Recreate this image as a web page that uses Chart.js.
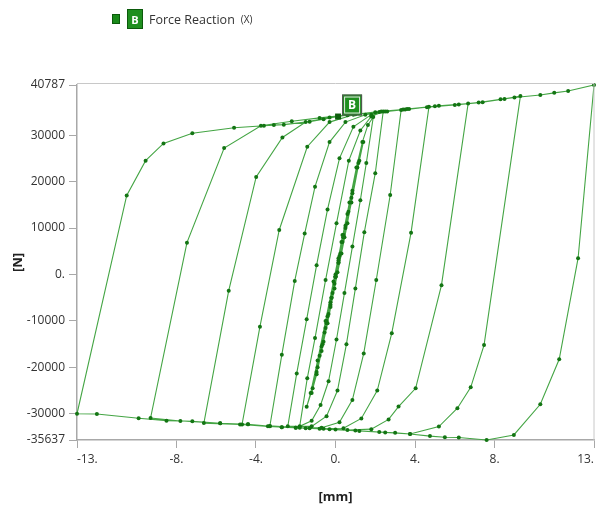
<!DOCTYPE html>
<html>
<head>
<meta charset="utf-8">
<script src="https://cdn.jsdelivr.net/npm/chart.js@4.4.0/dist/chart.umd.min.js"></script>
<style>
  html, body { margin: 0; padding: 0; background: #fff; }
  #wrap { position: relative; width: 598px; height: 509px; }
  #legend { position: absolute; left: 112px; top: 9px; height: 20px; display: flex; align-items: center;
            font: 12.5px "Open Sans", sans-serif; color: #333; }
  #legend .sw { width: 6px; height: 8px; background: #1a8a1a; border: 1px solid #0b5a0b; margin-right: 7px; }
  #legend .tag { width: 14px; height: 18px; background: #1f8f1f; border: 1px solid #0b5a0b; color: #fff;
                 font: bold 11px "Open Sans", sans-serif; display: flex; align-items: center; justify-content: center; margin-right: 6px; }
  #legend .axis { margin-left: 6px; font-size: 10px; }
  canvas { position: absolute; left: 0; top: 0; }
</style>
</head>
<body>
<div id="wrap">
  <canvas id="chart" width="598" height="509"></canvas>
  <div id="legend"><span class="sw"></span><span class="tag">B</span><span>Force Reaction</span><span class="axis">(X)</span></div>
</div>
<script>
// displacement [mm] and reaction force [N], in load-step order
const dispMm = [
  0, 0.15, 0.35, 0.2, 0, -0.2, -0.45, -0.25, -0.05, 0.15,
  0.4, 0.6, 0.4, 0.15, -0.15, -0.45, -0.7, -0.5, -0.25, 0, 0.25,
  0.5, 0.85, 0.65, 0.35, 0, -0.35, -0.65, -0.95, -0.7, -0.4, -0.05, 0.3, 0.6,
  1.1, 0.85, 0.5, 0.15, -0.2, -0.55, -0.9, -1.2, -0.95, -0.6, -0.25, 0.1, 0.45, 0.8,
  1.2, 1.4, 1.15, 0.8, 0.4, 0, -0.4, -0.8, -1.15, -1.45, -1.25, -0.9, -0.5, -0.1, 0.3, 0.7, 1.05, 1.35,
  1.63, 1.9,
  1.55, 1.25, 0.85, 0.45, 0.05, -0.35, -0.75, -1.2, -1.8,
  -1.42, -1.03, -0.5, 0.05, 0.67, 1.25, 1.8, 2.4,
  2.0, 1.45, 1.0, 0.55, 0.1, -0.45, -1.2, -2.4,
  -1.95, -1.45, -0.95, -0.4, 0.2, 0.9, 1.8, 2.6, 3.3,
  2.75, 2.05, 1.42, 0.85, 0.2, -0.7, -1.8, -3.3,
  -2.7, -2.05, -1.55, -1.03, -0.3, 0.5, 1.5, 2.5, 3.5, 4.7,
  3.8, 2.83, 2.1, 1.3, 0.4, -0.8, -2.0, -3.4, -4.7,
  -3.8, -2.83, -1.42, -0.3, 0.9, 2.2, 3.6, 5.2, 6.67,
  5.33, 4.03, 3.17, 2.67, 1.8, 0.6, -0.6, -2.0, -3.3, -4.8, -6.62,
  -5.37, -3.99, -2.67, -1.5, -0.3, 1.0, 2.3, 3.7, 5.0, 6.2, 7.4, 8.5, 9.3,
  7.47, 6.8, 6.13, 5.2, 3.75, 2.5, 1.2, 0, -1.3, -2.7, -4.4, -5.8, -7.8, -9.3,
  -7.47, -5.6, -3.75, -2.2, -0.8, 0.6, 2.0, 3.4, 4.6, 6.0, 7.2, 8.3, 9.0, 10.3, 11.0, 11.7, 13,
  12.2, 11.25, 10.3, 8.97, 7.6, 6.2, 5.5, 4.75, 3.75, 3.0, 2.2, 1.0, -0.3, -1.5, -2.7, -4.4, -5.8, -7.2, -8.5, -9.9, -12, -13,
  -10.5, -9.55, -8.65, -7.2, -5.1, -3.6, -3.1, -2.6, -1.3, -0.6, 0.13
];
const forceN = [
  0, 3500, 8500, 4000, -500, -5000, -10500, -6500, -2000, 2500,
  8000, 13000, 8500, 2500, -4000, -10000, -15500, -11500, -6000, -500, 4500,
  10000, 17500, 13500, 7000, -500, -8500, -15000, -21000, -16500, -10500, -3000, 4500, 11000,
  23000, 18000, 10500, 3000, -5000, -12500, -20000, -25500, -21500, -14500, -7000, 500, 8000, 15500,
  24500, 28500, 24000, 16500, 8000, -500, -9000, -17500, -24500, -28500, -25500, -18500, -10000, -1500, 7000, 15500, 23000, 28500,
  32200, 33900,
  24000, 16000, 6000, -4000, -14000, -23000, -28100, -31500, -32700,
  -22350, -13700, -1200, 11000, 24500, 31000, 34000, 35100,
  21800, 9100, -3000, -15000, -25000, -30500, -32700, -32700,
  -21300, -9650, 2000, 14000, 25000, 31800, 34400, 35100, 35400,
  17100, -1200, -17000, -27000, -31800, -33000, -33000, -32600,
  -17300, -1400, 8800, 18900, 28500, 32800, 34400, 35100, 35500, 36100,
  9000, -12650, -25000, -31000, -33100, -33200, -33000, -32700, -32300,
  -11240, 9580, 27500, 32800, 34400, 35000, 35600, 36300, 36800,
  -2300, -24500, -28450, -31200, -33300, -33500, -33200, -33000, -32700, -32300, -32000,
  -3500, 21000, 29500, 32800, 33800, 34500, 35100, 35600, 36200, 36600, 37100, 37800, 38400,
  -15200, -24300, -28800, -32750, -34350, -34000, -33700, -33400, -33100, -32900, -32250, -32030, -31540, -30900,
  6850, 27200, 32000, 33000, 33700, 34300, 34900, 35500, 36000, 36500, 37000, 37700, 38100, 38640, 39100, 39500, 40787,
  3500, -18250, -27950, -34550, -35637, -35100, -35050, -34800, -34350, -34100, -33900, -33600, -33300, -33100, -32900, -32250, -32030, -31600, -31470, -30950, -30030, -30000,
  17000, 24500, 28200, 30400, 31600, 32000, 32150, 32250, 32900, 33400, 34000
];

const xTicks = [-13, -8, -4, 0, 4, 8, 13];
const yTicks = [-35637, -30000, -20000, -10000, 0, 10000, 20000, 30000, 40787];
const probeLabel = 'B';
const probeAt = [0.13, 34000];

const axisGray = '#a8a8a8';
const tickFont = { family: 'Open Sans', size: 12 };

// light frame on top/right plus the probe tag
const framePlugin = {
  id: 'frame',
  afterDraw(chart) {
    const { ctx, chartArea: a, scales } = chart;
    ctx.save();
    ctx.strokeStyle = '#c8c8c8';
    ctx.lineWidth = 1;
    ctx.beginPath();
    ctx.moveTo(a.left, a.top - 1.5);
    ctx.lineTo(a.right, a.top - 1.5);
    ctx.lineTo(a.right, a.bottom);
    ctx.stroke();

    const px = scales.x.getPixelForValue(probeAt[0]);
    const py = scales.y.getPixelForValue(probeAt[1]);
    ctx.fillStyle = '#0d5e0d';
    ctx.fillRect(px - 3, py - 3, 6, 6);
    ctx.fillStyle = '#1f8f1f';
    ctx.strokeStyle = '#555';
    ctx.fillRect(px + 4, py - 22, 20, 21);
    ctx.strokeRect(px + 4.5, py - 21.5, 19, 20);
    ctx.strokeStyle = '#e8e8e8';
    ctx.strokeRect(px + 6.5, py - 19.5, 15, 16);
    ctx.fillStyle = '#fff';
    ctx.font = 'bold 12px "Open Sans", sans-serif';
    ctx.textAlign = 'center';
    ctx.textBaseline = 'middle';
    ctx.fillText(probeLabel, px + 14, py - 11);
    ctx.restore();
  }
};

new Chart(document.getElementById('chart'), {
  type: 'scatter',
  data: {
    datasets: [{
      label: 'Force Reaction (X)',
      data: dispMm.map((x, i) => ({ x, y: forceN[i] })),
      showLine: true,
      tension: 0,
      borderColor: '#44a544',
      borderWidth: 1.1,
      pointRadius: 2,
      pointBackgroundColor: '#137513',
      pointBorderWidth: 0,
      clip: 4
    }]
  },
  options: {
    responsive: false,
    animation: false,
    layout: { padding: { top: 85, right: 1, left: 0, bottom: 0 } },
    plugins: { legend: { display: false }, tooltip: { enabled: false } },
    scales: {
      x: {
        type: 'linear',
        min: -13,
        max: 13,
        afterBuildTicks: s => { s.ticks = xTicks.map(v => ({ value: v })); },
        afterFit: s => { s.height = 69; },
        ticks: {
          callback: v => v + '.',
          color: '#333',
          font: tickFont,
          padding: 4,
          align: 'inner',
          maxRotation: 0,
          autoSkip: false
        },
        grid: { drawOnChartArea: false, drawTicks: true, tickLength: 8, color: axisGray },
        border: { color: axisGray, width: 1.5 },
        title: {
          display: true,
          text: '[mm]',
          color: '#222',
          font: { family: 'Open Sans', size: 13, weight: 'bold' },
          padding: { top: 0, bottom: 4 }
        }
      },
      y: {
        min: -35637,
        max: 40787,
        afterBuildTicks: s => { s.ticks = yTicks.map(v => ({ value: v })); },
        afterFit: s => { s.width = 77; },
        ticks: {
          callback: v => (v === 0 ? '0.' : String(v)),
          color: '#333',
          font: tickFont,
          padding: 4,
          autoSkip: false
        },
        grid: { drawOnChartArea: false, drawTicks: true, tickLength: 8, color: axisGray },
        border: { color: axisGray, width: 1.5 },
        title: {
          display: true,
          text: '[N]',
          color: '#222',
          font: { family: 'Open Sans', size: 13, weight: 'bold' },
          padding: { top: 10, bottom: 4 }
        }
      }
    }
  },
  plugins: [framePlugin]
});
</script>
</body>
</html>
